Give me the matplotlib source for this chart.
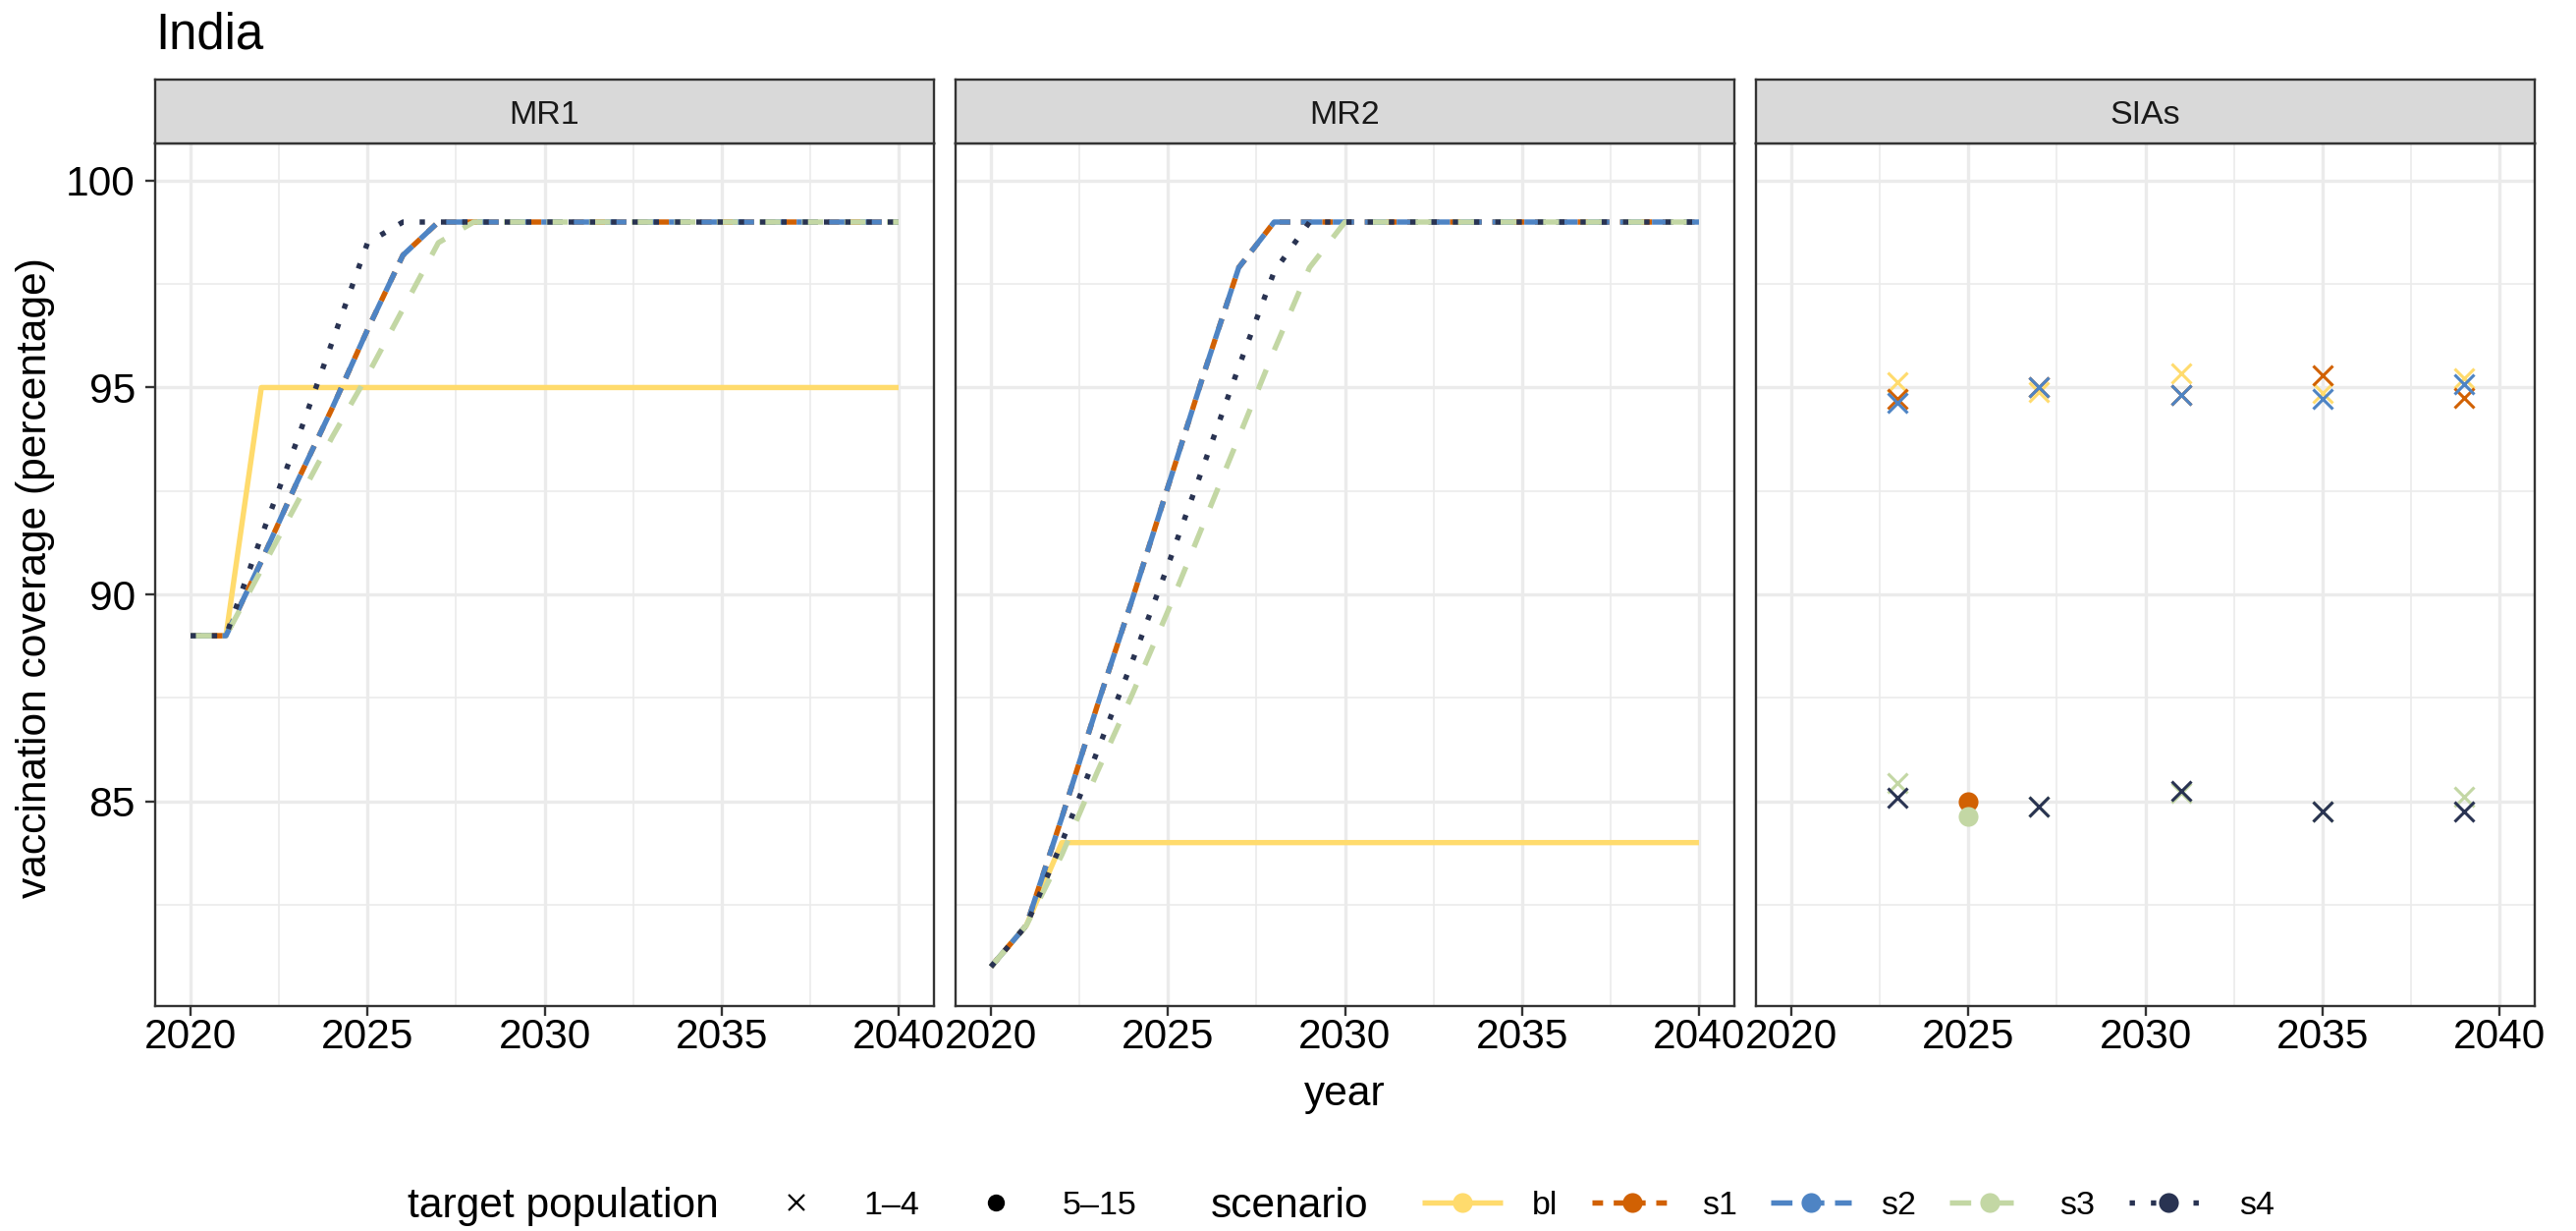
import matplotlib
matplotlib.use("Agg")
import matplotlib.pyplot as plt
from matplotlib.lines import Line2D

plt.rcParams["font.family"] = ["Liberation Sans", "DejaVu Sans"]

years = list(range(2020, 2041))
scenarios = ["bl", "s1", "s2", "s3", "s4"]

# MR1 coverage (%), one value per year 2020..2040
mr1_bl = [89, 89, 95, 95, 95, 95, 95, 95, 95, 95, 95, 95, 95, 95, 95, 95, 95, 95, 95, 95, 95]
mr1_s1 = [89, 89, 90.8, 92.7, 94.5, 96.4, 98.2, 99, 99, 99, 99, 99, 99, 99, 99, 99, 99, 99, 99, 99, 99]
mr1_s2 = [89, 89, 90.8, 92.7, 94.5, 96.4, 98.2, 99, 99, 99, 99, 99, 99, 99, 99, 99, 99, 99, 99, 99, 99]
mr1_s3 = [89, 89, 90.6, 92.2, 93.8, 95.3, 96.9, 98.5, 99, 99, 99, 99, 99, 99, 99, 99, 99, 99, 99, 99, 99]
mr1_s4 = [89, 89, 91.4, 93.7, 96.1, 98.5, 99, 99, 99, 99, 99, 99, 99, 99, 99, 99, 99, 99, 99, 99, 99]

# MR2 coverage (%)
mr2_bl = [81, 82, 84, 84, 84, 84, 84, 84, 84, 84, 84, 84, 84, 84, 84, 84, 84, 84, 84, 84, 84]
mr2_s1 = [81, 82, 84.6, 87.3, 89.9, 92.6, 95.3, 97.9, 99, 99, 99, 99, 99, 99, 99, 99, 99, 99, 99, 99, 99]
mr2_s2 = [81, 82, 84.6, 87.3, 89.9, 92.6, 95.3, 97.9, 99, 99, 99, 99, 99, 99, 99, 99, 99, 99, 99, 99, 99]
mr2_s3 = [81, 82, 83.7, 85.7, 87.6, 89.6, 91.7, 93.8, 95.9, 97.9, 99, 99, 99, 99, 99, 99, 99, 99, 99, 99, 99]
mr2_s4 = [81, 82, 84.0, 86.2, 88.4, 90.7, 93.1, 95.5, 97.8, 99, 99, 99, 99, 99, 99, 99, 99, 99, 99, 99, 99]

# SIAs, target population 1-4
sia_years_14 = [2023, 2027, 2031, 2035, 2039]
sia14_bl = [95.14, 94.90, 95.34, 94.87, 95.22]
sia14_s1 = [94.72, 95.00, 94.81, 95.30, 94.75]
sia14_s2 = [94.63, 95.00, 94.81, 94.73, 95.08]
sia14_s3 = [85.43, 84.86, 85.20, 84.75, 85.12]
sia14_s4 = [85.08, 84.88, 85.26, 84.75, 84.76]
# SIAs, target population 5-15
sia_years_515 = [2025]
sia515_s1 = [85.00]
sia515_s3 = [84.64]

colors = {"bl": "#FFDB6D", "s1": "#D16103", "s2": "#4E84C4", "s3": "#C3D7A4", "s4": "#293352"}
styles = {"bl": "solid", "s1": (0, (2, 2)), "s2": (0, (4, 2)), "s3": (0, (4, 4)), "s4": (0, (1, 3))}

mr1 = {"bl": mr1_bl, "s1": mr1_s1, "s2": mr1_s2, "s3": mr1_s3, "s4": mr1_s4}
mr2 = {"bl": mr2_bl, "s1": mr2_s1, "s2": mr2_s2, "s3": mr2_s3, "s4": mr2_s4}
sia14 = {"bl": sia14_bl, "s1": sia14_s1, "s2": sia14_s2, "s3": sia14_s3, "s4": sia14_s4}
sia515 = {"s1": sia515_s1, "s3": sia515_s3}

W, H = 2623, 1253
fig = plt.figure(figsize=(W / 100, H / 100), dpi=100)


def fx(px):
    return px / W


def fy(py):
    return 1 - py / H


LW = 3.9
BORDER = "#333333"
GRID = "#EBEBEB"
panel_lefts = [158, 973, 1788]
panel_w, p_top, p_bot, s_top = 793, 146, 1024, 81
titles = ["MR1", "MR2", "SIAs"]

for i, name in enumerate(titles):
    left = panel_lefts[i]
    ax = fig.add_axes([fx(left), fy(p_bot), panel_w / W, (p_bot - p_top) / H])
    if name == "MR1" or name == "MR2":
        data = mr1 if name == "MR1" else mr2
        for sc in scenarios:
            ax.plot(years, data[sc], color=colors[sc], lw=LW, ls=styles[sc],
                    dash_capstyle="butt", solid_capstyle="butt", solid_joinstyle="round")
    else:
        for sc in scenarios:
            ax.plot(sia_years_14, sia14[sc], ls="none", marker="x", ms=15, mew=2.2,
                    color=colors[sc])
            if sc in sia515:
                ax.plot(sia_years_515, sia515[sc], ls="none", marker="o", ms=14.5,
                        color=colors[sc], mec="none")

    ax.set_xlim(2019, 2041)
    ax.set_ylim(80.05, 100.9)
    ax.set_xticks([2020, 2025, 2030, 2035, 2040])
    ax.set_xticks([2022.5, 2027.5, 2032.5, 2037.5], minor=True)
    ax.set_yticks([85, 90, 95, 100])
    ax.set_yticks([82.5, 87.5, 92.5, 97.5], minor=True)
    ax.grid(which="major", color=GRID, lw=2.4)
    ax.grid(which="minor", color=GRID, lw=1.2)
    ax.set_axisbelow(True)
    for sp in ax.spines.values():
        sp.set_color(BORDER)
        sp.set_linewidth(1.7)
    ax.tick_params(which="major", length=7.5, width=1.7, color=BORDER, labelsize=30.6,
                   labelcolor="black")
    ax.tick_params(axis="x", which="major", pad=1)
    ax.tick_params(axis="y", which="major", pad=7)
    ax.tick_params(which="minor", length=0)
    if i > 0:
        ax.tick_params(axis="y", which="both", left=False, labelleft=False)

    # facet strip
    sax = fig.add_axes([fx(left), fy(p_top), panel_w / W, (p_top - s_top) / H])
    sax.set_facecolor("#D9D9D9")
    sax.set_xticks([])
    sax.set_yticks([])
    for sp in sax.spines.values():
        sp.set_color(BORDER)
        sp.set_linewidth(1.7)
    sax.text(0.5, 0.5, name, ha="center", va="center_baseline", fontsize=24.5,
             color="#1A1A1A", transform=sax.transAxes)

fig.text(fx(158), fy(50), "India", fontsize=36.7, va="baseline", ha="left")
fig.text(fx(1369), fy(1125), "year", fontsize=30.6, ha="center", va="baseline")
fig.text(fx(36), fy(588), "vaccination coverage (percentage)", fontsize=30.6,
         rotation=90, ha="center", va="center")

# legends
leg_y = fy(1227)
fig.text(fx(415), fy(1239), "target population", fontsize=30.6, va="baseline")
fig.text(fx(1233), fy(1239), "scenario", fontsize=30.6, va="baseline")

shape_handles = [
    Line2D([], [], ls="none", marker="x", ms=12, mew=1.6, color="black"),
    Line2D([], [], ls="none", marker="o", ms=12.5, color="black", mec="none"),
]
fig.legend(shape_handles, ["1–4", "5–15"], ncol=2, loc="center left",
           bbox_to_anchor=(fx(770), leg_y), frameon=False, fontsize=24.5,
           handlelength=2.4, handletextpad=0.8, columnspacing=1.1,
           borderpad=0, borderaxespad=0)

sc_handles = [
    Line2D([], [], color=colors[sc], lw=LW, ls=styles[sc], marker="o", ms=14.5,
           mec="none", dash_capstyle="butt", solid_capstyle="butt")
    for sc in scenarios
]
fig.legend(sc_handles, scenarios, ncol=5, loc="center left",
           bbox_to_anchor=(fx(1448), leg_y), frameon=False, fontsize=24.5,
           handlelength=2.4, handletextpad=0.9, columnspacing=1.0,
           borderpad=0, borderaxespad=0)

fig.savefig("out.png", dpi=100)
